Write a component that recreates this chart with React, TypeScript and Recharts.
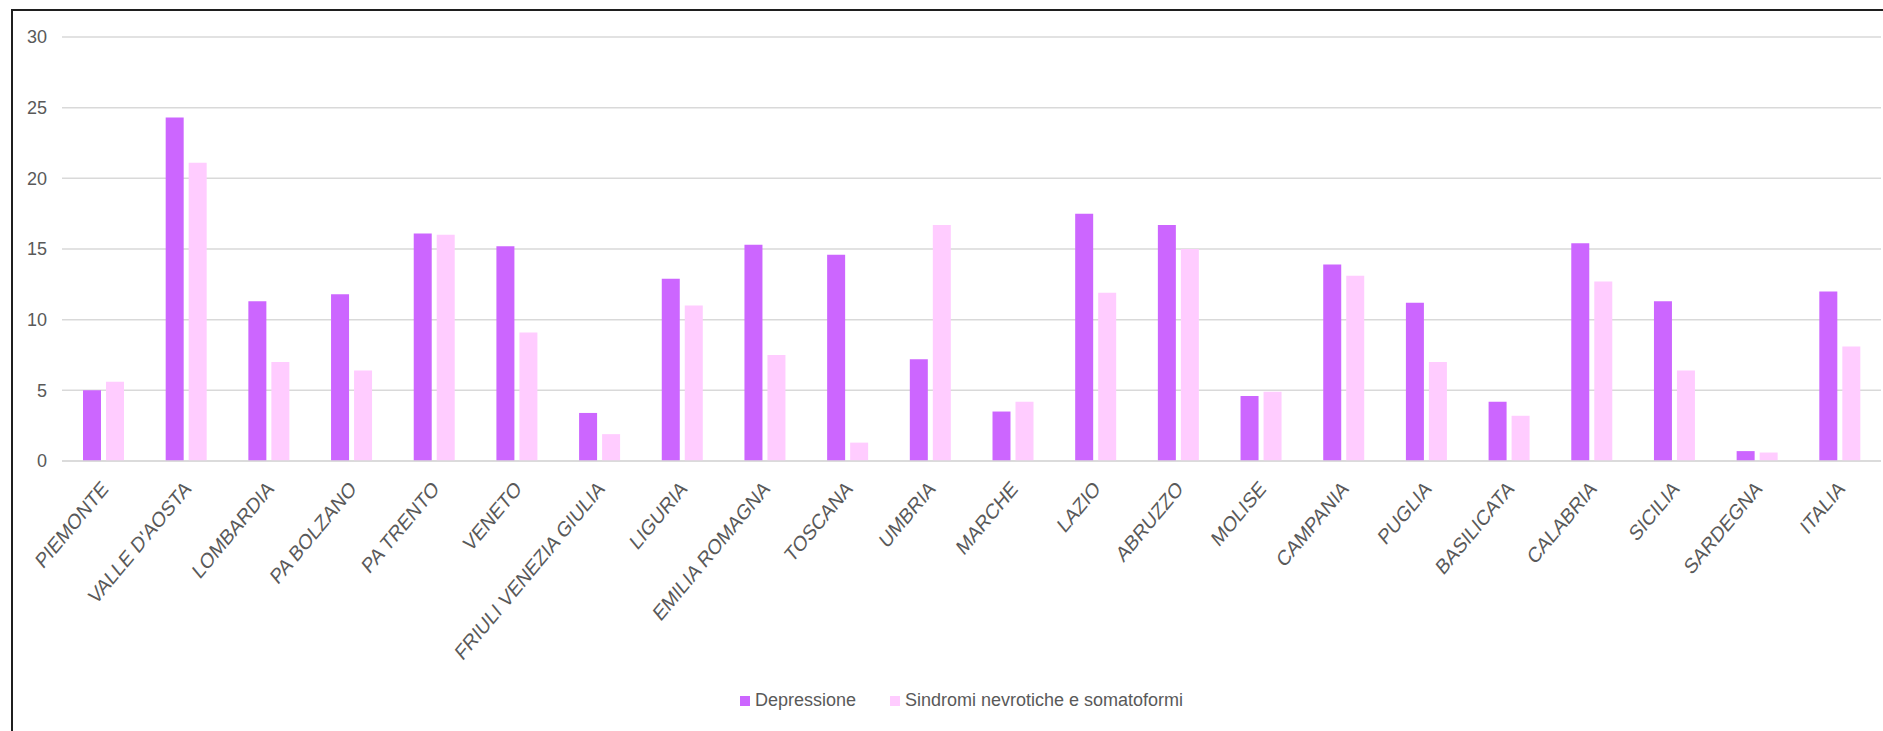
import { BarChart, Bar, XAxis, YAxis, CartesianGrid, Legend } from "recharts";

const regions = [
    "PIEMONTE", "VALLE D'AOSTA", "LOMBARDIA", "PA BOLZANO", "PA TRENTO", "VENETO",
    "FRIULI VENEZIA GIULIA", "LIGURIA", "EMILIA ROMAGNA", "TOSCANA", "UMBRIA", "MARCHE",
    "LAZIO", "ABRUZZO", "MOLISE", "CAMPANIA", "PUGLIA", "BASILICATA", "CALABRIA",
    "SICILIA", "SARDEGNA", "ITALIA",
];
const depressione = [5.0, 24.3, 11.3, 11.8, 16.1, 15.2, 3.4, 12.9, 15.3, 14.6, 7.2, 3.5, 17.5, 16.7, 4.6, 13.9, 11.2, 4.2, 15.4, 11.3, 0.7, 12.0];
const sindromi = [5.6, 21.1, 7.0, 6.4, 16.0, 9.1, 1.9, 11.0, 7.5, 1.3, 16.7, 4.2, 11.9, 15.0, 4.9, 13.1, 7.0, 3.2, 12.7, 6.4, 0.6, 8.1];
const yTicks = [0, 5, 10, 15, 20, 25, 30];

const data = regions.map((region, i) => ({
    region,
    Depressione: depressione[i],
    Sindromi: sindromi[i],
}));

const FONT = "'Liberation Sans', Arial, sans-serif";
const TEXT = "#595959";

// labels in the original are slanted and a bit stretched vertically
function RegionTick({ x, y, payload }: any) {
    return (
        <g transform={`translate(${x + 6},${y + 29})`}>
            <text textAnchor="end" transform="scale(1,1.2) rotate(-45)" fontSize={18} fill={TEXT} fontFamily={FONT}>
                {payload.value}
            </text>
        </g>
    );
}

function LegendContent({ payload }: any) {
    return (
        <div style={{ display: "flex", justifyContent: "center", fontFamily: FONT, fontSize: 18, color: TEXT }}>
            {(payload || []).map((entry: any, i: number) => (
                <span key={i} style={{ display: "inline-flex", alignItems: "center", marginRight: i === 0 ? 34 : 0 }}>
                    <span style={{ width: 10, height: 10, background: entry.color, marginRight: 5, display: "inline-block" }} />
                    {entry.value}
                </span>
            ))}
        </div>
    );
}

export default function App() {
    return (
        <div style={{ position: "absolute", left: 0, top: 0, width: 1883, height: 731, background: "#fff" }}>
            <div
                style={{
                    position: "absolute", left: 11, top: 9, width: 1872, height: 722,
                    borderLeft: "2px solid #1f1f1f", borderTop: "2px solid #1f1f1f", boxSizing: "border-box",
                }}
            />
            <div style={{ position: "absolute", left: 0, top: 0 }}>
                <BarChart
                    width={1883}
                    height={731}
                    data={data}
                    margin={{ top: 37, right: 2, left: 0, bottom: 20 }}
                    barSize={18}
                    barGap={5}
                >
                    <CartesianGrid vertical={false} stroke="#d9d9d9" strokeWidth={1.5} />
                    <XAxis
                        dataKey="region"
                        interval={0}
                        height={229}
                        tickLine={false}
                        tickSize={0}
                        tickMargin={0}
                        stroke="#d9d9d9"
                        strokeWidth={1.5}
                        tick={<RegionTick />}
                    />
                    <YAxis
                        width={62}
                        domain={[0, 30]}
                        ticks={yTicks}
                        axisLine={false}
                        tickLine={false}
                        tickSize={0}
                        tickMargin={15}
                        tick={{ fontSize: 18, fill: TEXT, fontFamily: FONT }}
                    />
                    <Legend
                        verticalAlign="bottom"
                        content={<LegendContent />}
                        wrapperStyle={{ paddingLeft: 42, boxSizing: "border-box" }}
                    />
                    <Bar dataKey="Depressione" name="Depressione" fill="#cc66ff" isAnimationActive={false} />
                    <Bar dataKey="Sindromi" name="Sindromi nevrotiche e somatoformi" fill="#ffccff" isAnimationActive={false} />
                </BarChart>
            </div>
        </div>
    );
}
